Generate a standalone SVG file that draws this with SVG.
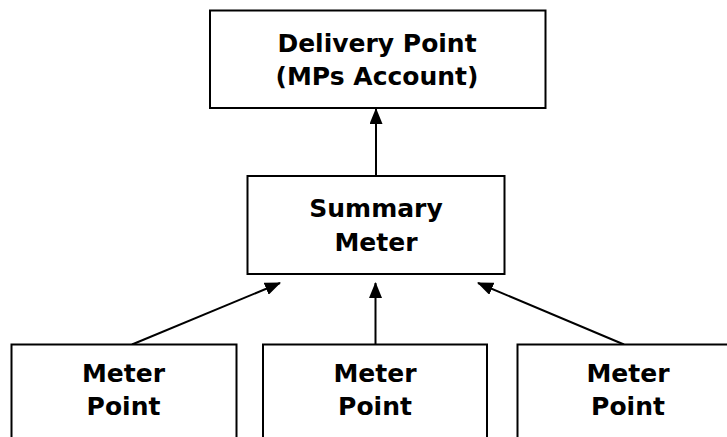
<svg xmlns="http://www.w3.org/2000/svg" width="727" height="437" viewBox="0 0 727 437">
<defs>
<style>
.box{fill:#fff;stroke:#000;stroke-width:2}
.t{font-family:"DejaVu Sans","Verdana",sans-serif;font-weight:bold;font-size:25px;fill:#000;text-anchor:middle}
.c{stroke:#000;stroke-width:2;fill:none;marker-end:url(#ah)}
</style>
<marker id="ah" markerWidth="16" markerHeight="13" refX="15" refY="6.5" orient="auto" markerUnits="userSpaceOnUse">
<path d="M0,0 L16,6.5 L0,13 Z" fill="#000"/>
</marker>
</defs>
<rect width="727" height="437" fill="#fff"/>
<g id="connectors">
<line class="c" x1="376" y1="176" x2="376" y2="109"/>
<line class="c" x1="132" y1="344.5" x2="280" y2="283"/>
<line class="c" x1="375.5" y1="344.5" x2="375.5" y2="283"/>
<line class="c" x1="624" y1="344.5" x2="478" y2="283"/>
</g>
<g id="delivery-point">
<rect class="box" x="210" y="10.5" width="335.5" height="97.5"/>
<text class="t" x="377" y="51.5">Delivery Point</text>
<text class="t" x="377" y="85">(MPs Account)</text>
</g>
<g id="summary-meter">
<rect class="box" x="247.5" y="176" width="257" height="98"/>
<text class="t" x="376" y="216.5">Summary</text>
<text class="t" x="376" y="251">Meter</text>
</g>
<g id="meter-point-1">
<rect class="box" x="11.5" y="344.5" width="225" height="100"/>
<text class="t" x="123.5" y="381.5">Meter</text>
<text class="t" x="123.5" y="414.5">Point</text>
</g>
<g id="meter-point-2">
<rect class="box" x="263" y="344.5" width="224" height="100"/>
<text class="t" x="375" y="381.5">Meter</text>
<text class="t" x="375" y="414.5">Point</text>
</g>
<g id="meter-point-3">
<rect class="box" x="517.5" y="344.5" width="222" height="100"/>
<text class="t" x="628" y="381.5">Meter</text>
<text class="t" x="628" y="414.5">Point</text>
</g>
</svg>
